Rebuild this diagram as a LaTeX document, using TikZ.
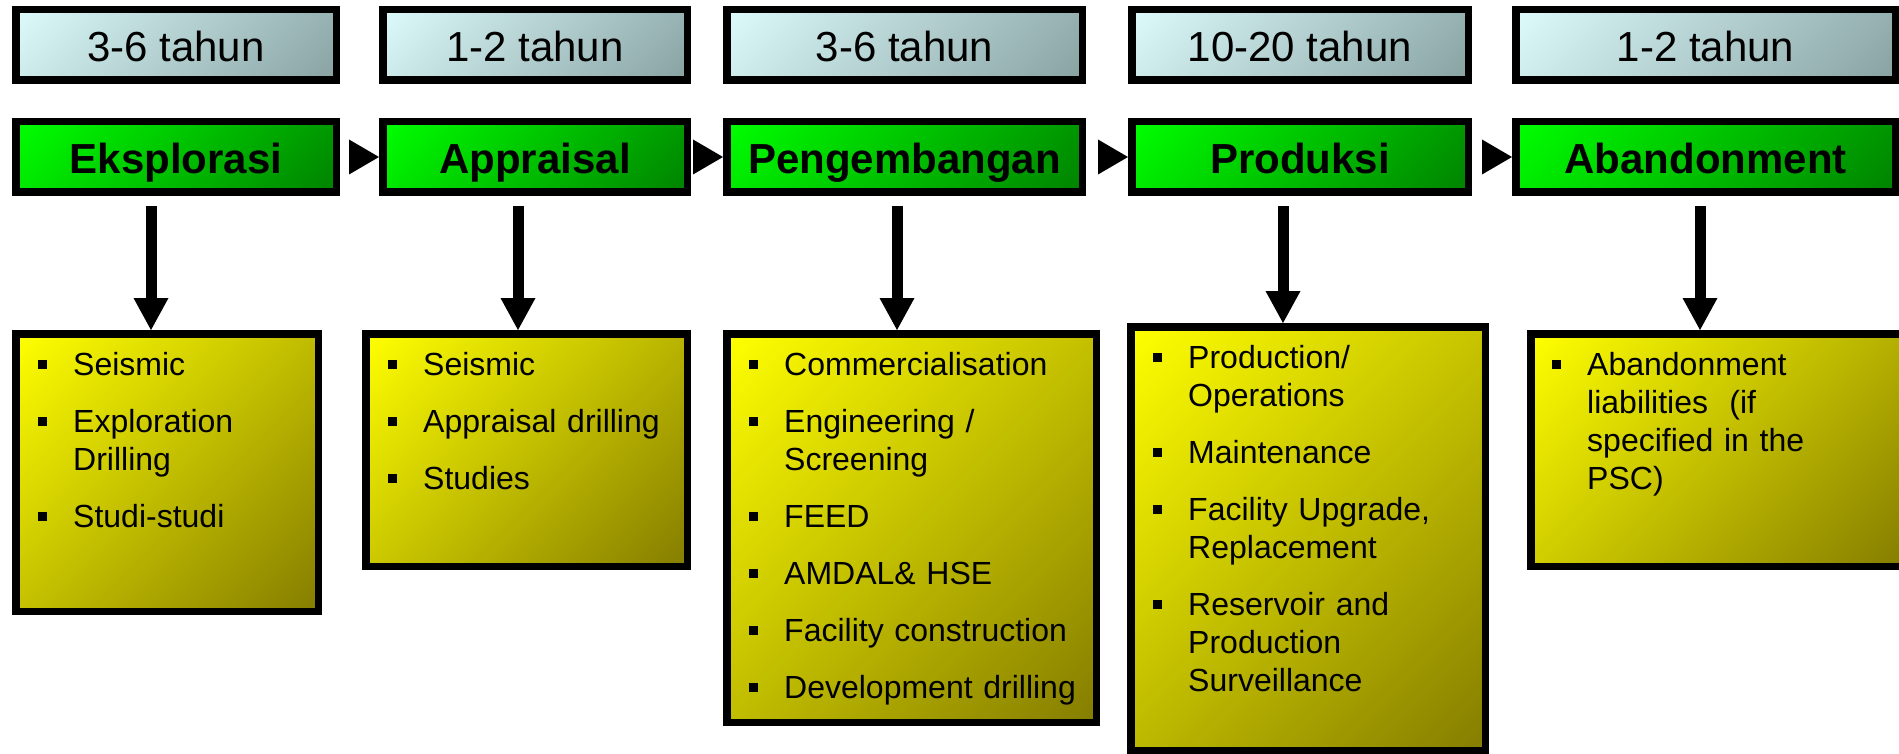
\documentclass[tikz,border=0pt]{standalone}
\usepackage{fontspec}
\setmainfont{Liberation Sans}
\usetikzlibrary{arrows.meta}
\setlength{\parindent}{0pt}
\setlength{\parskip}{0pt}
\definecolor{cyanTL}{HTML}{DDFBFB}
\definecolor{cyanBR}{HTML}{88A2A2}
\definecolor{grnTL}{HTML}{00FF00}
\definecolor{grnBR}{HTML}{008200}
\definecolor{yelTL}{HTML}{FFFF00}
\definecolor{yelBR}{HTML}{857D00}
\pgfdeclarehorizontalshading{cyandiag}{100bp}{color(0bp)=(cyanTL); color(14.6bp)=(cyanTL); color(85.4bp)=(cyanBR); color(100bp)=(cyanBR)}
\pgfdeclarehorizontalshading{grndiag}{100bp}{color(0bp)=(grnTL); color(14.6bp)=(grnTL); color(85.4bp)=(grnBR); color(100bp)=(grnBR)}
\pgfdeclarehorizontalshading{yeldiag}{100bp}{color(0bp)=(yelTL); color(14.6bp)=(yelTL); color(85.4bp)=(yelBR); color(100bp)=(yelBR)}
\newcommand{\blt}{\leavevmode\llap{\rule[6pt]{9pt}{9pt}\hspace{26pt}}\rule{0pt}{30pt}}
\newcommand{\nxt}{\par\vspace{19pt}}
\begin{document}
\begin{tikzpicture}[x=1pt,y=-1pt,
 frame/.style={draw=black, line width=7.5pt, inner sep=0pt},
 sz/.style 2 args={minimum width=#1pt-7.5pt, minimum height=#2pt-7.5pt},
 yearbox/.style={frame, shade, shading=cyandiag, shading angle=-45,
   font=\fontsize{42pt}{48pt}\selectfont, text height=34pt, text depth=0pt},
 phasebox/.style={frame, shade, shading=grndiag, shading angle=-45,
   font=\fontsize{42pt}{48pt}\selectfont\bfseries, text height=34pt, text depth=0pt},
 taskbox/.style={frame, shade, shading=yeldiag, shading angle=-45},
 tasklist/.style={anchor=north west, inner sep=0pt, text width=330pt,
   font=\fontsize{32pt}{38pt}\selectfont},
 flow/.style={line width=0.4pt, -{Triangle[length=30pt,width=35pt,line width=0pt]}, shorten <=12pt},
 drop/.style={line width=11pt, -{Triangle[length=32pt,width=35pt,line width=0pt]}},
]
\useasboundingbox (0,0) rectangle (1899,754);

% duration boxes
\node[yearbox, sz={328}{78}] (t1) at (176,45) {3-6 tahun};
\node[yearbox, sz={312}{78}] (t2) at (535,45) {1-2 tahun};
\node[yearbox, sz={363}{78}] (t3) at (904.5,45) {3-6 tahun};
\node[yearbox, sz={344}{78}] (t4) at (1300,45) {10-20 tahun};
\node[yearbox, sz={387}{78}] (t5) at (1705.5,45) {1-2 tahun};

% phase boxes
\node[phasebox, sz={328}{78}] (g1) at (176,157) {Eksplorasi};
\node[phasebox, sz={312}{78}] (g2) at (535,157) {Appraisal};
\node[phasebox, sz={363}{78}] (g3) at (904.5,157) {Pengembangan};
\node[phasebox, sz={344}{78}] (g4) at (1300,157) {Produksi};
\node[phasebox, sz={387}{78}] (g5) at (1705.5,157) {Abandonment};

% task boxes
\node[taskbox, sz={310}{285}] (y1) at (167,472.5) {};
\node[taskbox, sz={329}{240}] (y2) at (526.5,450) {};
\node[taskbox, sz={377}{396}] (y3) at (911.5,528) {};
\node[taskbox, sz={362}{431}] (y4) at (1308,538.5) {};
\node[taskbox, sz={383}{240}] (y5) at (1718.5,450) {};

% task lists
\node[tasklist] (l1) at (73,345) {\blt Seismic\nxt\blt Exploration\\Drilling\nxt\blt Studi-studi};
\node[tasklist] (l2) at (423,345) {\blt Seismic\nxt\blt Appraisal drilling\nxt\blt Studies};
\node[tasklist] (l3) at (784,345) {\blt Commercialisation\nxt\blt Engineering /\\Screening\nxt\blt FEED\nxt\blt AMDAL\& HSE\nxt\blt Facility construction\nxt\blt Development drilling};
\node[tasklist] (l4) at (1188,338) {\blt Production/\\Operations\nxt\blt Maintenance\nxt\blt Facility Upgrade,\\Replacement\nxt\blt Reservoir and\\Production\\Surveillance};
\node[tasklist] (l5) at (1587,345) {\blt Abandonment\\liabilities\ \ (if\\specified in the\\PSC)};

% flow arrows between phases
\draw[flow] (g1) -- (g2);
\draw[flow] (g2) -- (g3);
\draw[flow] (g3) -- (g4);
\draw[flow] (g4) -- (g5);

% drop arrows
\coordinate (s1) at (151,206);
\coordinate (s2) at (518,206);
\coordinate (s3) at (897,206);
\coordinate (s4) at (1283,206);
\coordinate (s5) at (1700,206);
\draw[drop] (s1) -- (s1 |- y1.north);
\draw[drop] (s2) -- (s2 |- y2.north);
\draw[drop] (s3) -- (s3 |- y3.north);
\draw[drop] (s4) -- (s4 |- y4.north);
\draw[drop] (s5) -- (s5 |- y5.north);
\end{tikzpicture}
\end{document}
